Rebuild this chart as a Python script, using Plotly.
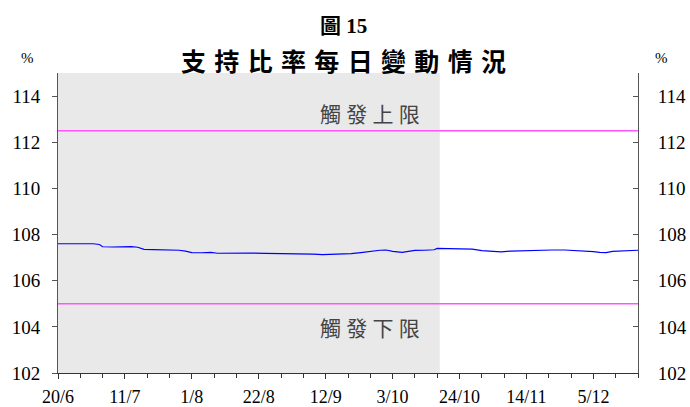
import plotly.graph_objects as go

# ---- data ----
dates = ["2007-06-20", "2007-06-24", "2007-06-28", "2007-07-01", "2007-07-03", "2007-07-04",
         "2007-07-07", "2007-07-10", "2007-07-13", "2007-07-15", "2007-07-17", "2007-07-20",
         "2007-07-23", "2007-07-26", "2007-07-28", "2007-07-30", "2007-08-01", "2007-08-04",
         "2007-08-07", "2007-08-09", "2007-08-14", "2007-08-19", "2007-08-24", "2007-08-29",
         "2007-09-03", "2007-09-08", "2007-09-11", "2007-09-14", "2007-09-17", "2007-09-20",
         "2007-09-23", "2007-09-25", "2007-09-27", "2007-09-29", "2007-10-01", "2007-10-03",
         "2007-10-06", "2007-10-08", "2007-10-10", "2007-10-13", "2007-10-16", "2007-10-17",
         "2007-10-20", "2007-10-24", "2007-10-28", "2007-10-31", "2007-11-03", "2007-11-06",
         "2007-11-09", "2007-11-13", "2007-11-17", "2007-11-22", "2007-11-26", "2007-11-30",
         "2007-12-03", "2007-12-05", "2007-12-07", "2007-12-09", "2007-12-11", "2007-12-14",
         "2007-12-19"]
ratio = [107.60, 107.60, 107.62, 107.60, 107.57, 107.47,
         107.46, 107.47, 107.48, 107.45, 107.36, 107.35,
         107.35, 107.33, 107.32, 107.28, 107.22, 107.21,
         107.23, 107.19, 107.20, 107.20, 107.18, 107.18,
         107.17, 107.15, 107.13, 107.14, 107.16, 107.17,
         107.22, 107.26, 107.27, 107.32, 107.33, 107.27,
         107.23, 107.28, 107.31, 107.32, 107.34, 107.40,
         107.39, 107.38, 107.37, 107.30, 107.26, 107.25,
         107.28, 107.30, 107.31, 107.33, 107.33, 107.31,
         107.30, 107.26, 107.23, 107.22, 107.27, 107.29,
         107.32]

x_range = ["2007-06-20", "2007-12-19"]
upper_trigger = [112.5, 112.5]
lower_trigger = [105.0, 105.0]
shade_period = ["2007-06-20", "2007-10-17 19:00"]

tick_dates = ["2007-06-20", "2007-07-11", "2007-08-01", "2007-08-22", "2007-09-12",
              "2007-10-03", "2007-10-24", "2007-11-14", "2007-12-05"]
tick_labels = ["20/6", "11/7", "1/8", "22/8", "12/9", "3/10", "24/10", "14/11", "5/12"]
y_ticks = [102, 104, 106, 108, 110, 112, 114]

title_line1 = "圖 15"
title_line2 = "支\u2004持\u2004比\u2004率\u2004每\u2004日\u2004變\u2004動\u2004情\u2004況"
upper_label = "觸\u2005發\u2005上\u2005限"
lower_label = "觸\u2005發\u2005下\u2005限"

SERIF = "Liberation Serif"
CJK = "Noto Sans CJK TC"

fig = go.Figure()

fig.add_shape(type="rect", xref="x", yref="paper", x0=shade_period[0], x1=shade_period[1],
              y0=0, y1=1, fillcolor="#e9e9e9", line_width=0, layer="below")

fig.add_trace(go.Scatter(x=x_range, y=upper_trigger, mode="lines",
                         line=dict(color="#ff55ff", width=1.5), hoverinfo="skip"))
fig.add_trace(go.Scatter(x=x_range, y=lower_trigger, mode="lines",
                         line=dict(color="#ff55ff", width=1.5), hoverinfo="skip"))
fig.add_trace(go.Scatter(x=dates, y=ratio, mode="lines",
                         line=dict(color="#0000ff", width=1.2)))
# invisible trace for right axis
fig.add_trace(go.Scatter(x=x_range, y=upper_trigger, yaxis="y2", mode="lines",
                         line=dict(width=0), opacity=0, hoverinfo="skip"))

fig.update_layout(
    width=690, height=407,
    margin=dict(l=58, r=52, t=73, b=34, autoexpand=False),
    paper_bgcolor="white", plot_bgcolor="white",
    showlegend=False,
    xaxis=dict(
        type="date", range=x_range, tickvals=tick_dates, ticktext=tick_labels,
        ticks="outside", ticklen=5, tickcolor="#333", tickwidth=1,
        showline=True, linecolor="#333", linewidth=1, showgrid=False, zeroline=False,
        tickfont=dict(family=SERIF, size=18, color="black"),
        minor=dict(dtick=7 * 86400000, tick0="2007-06-20", ticks="outside", ticklen=4,
                   tickcolor="#333", showgrid=False),
        ticklabelstandoff=2, automargin=False,
    ),
    yaxis=dict(
        range=[102, 115], tickvals=y_ticks, ticks="outside", ticklen=5, tickcolor="#555",
        showline=True, linecolor="#555", linewidth=1, showgrid=False, zeroline=False,
        tickfont=dict(family=SERIF, size=19, color="black"),
        ticklabelstandoff=8, automargin=False,
    ),
    yaxis2=dict(
        range=[102, 115], tickvals=y_ticks, overlaying="y", side="right",
        ticks="inside", ticklen=5, tickcolor="#555",
        showline=True, linecolor="#555", linewidth=1, showgrid=False, zeroline=False,
        tickfont=dict(family=SERIF, size=19, color="black"),
        ticklabelstandoff=15, automargin=False,
    ),
    annotations=[
        dict(text="<b>" + title_line1 + "</b>", xref="paper", yref="paper", x=0.4925, y=1.158,
             xanchor="center", yanchor="middle", showarrow=False,
             font=dict(family=SERIF + ", " + CJK, size=21, color="black")),
        dict(text="<b>" + title_line2 + "</b>", xref="paper", yref="paper", x=0.4925, y=1.044,
             xanchor="center", yanchor="middle", showarrow=False,
             font=dict(family=CJK, size=25, color="black")),
        dict(text="%", xref="paper", yref="paper", x=-0.052, y=1.05,
             xanchor="center", yanchor="middle", showarrow=False,
             font=dict(family=SERIF, size=15, color="black")),
        dict(text="%", xref="paper", yref="paper", x=1.040, y=1.05,
             xanchor="center", yanchor="middle", showarrow=False,
             font=dict(family=SERIF, size=15, color="black")),
        dict(text=upper_label, xref="x", yref="y", x="2007-09-26", y=113.27,
             xanchor="center", yanchor="middle", showarrow=False,
             font=dict(family=CJK, size=21, color="#444")),
        dict(text=lower_label, xref="x", yref="y", x="2007-09-26", y=104.0,
             xanchor="center", yanchor="middle", showarrow=False,
             font=dict(family=CJK, size=21, color="#444")),
    ],
)

fig.write_html("out.html", config={"displayModeBar": False},
               post_script="document.body.style.margin='0';document.body.style.overflow='hidden';")
